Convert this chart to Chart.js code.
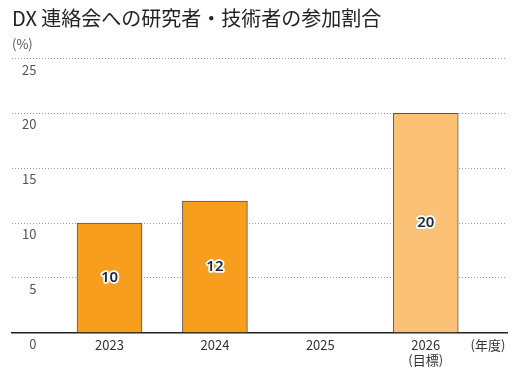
<!DOCTYPE html>
<html>
<head>
<meta charset="utf-8">
<script src="https://cdn.jsdelivr.net/npm/chart.js@4/dist/chart.umd.min.js"></script>
<style>
html,body{margin:0;padding:0;background:#fff;}
#wrap{width:520px;height:381px;position:relative;}
</style>
</head>
<body>
<div id="wrap"><canvas id="c" width="520" height="381"></canvas></div>
<script>
const titleText = 'DX 連絡会への研究者・技術者の参加割合';
const unitY = '(%)';
const unitX = '(年度)';
const categories = ['2023', '2024', '2025', ['2026', '(目標)']];
const values = [10, 12, null, 20];
const barColors = ['#F79E1F', '#F79E1F', '#F79E1F', '#FBC277'];
const yTicks = [0, 5, 10, 15, 20, 25];
const FONT = '"Noto Sans CJK JP", "Noto Sans", sans-serif';

const barLabels = {
  id: 'barLabels',
  afterDatasetsDraw(chart) {
    const ctx = chart.ctx;
    const meta = chart.getDatasetMeta(0);
    ctx.save();
    ctx.font = '600 15px "Noto Sans", sans-serif';
    ctx.textAlign = 'center';
    ctx.textBaseline = 'middle';
    meta.data.forEach((el, i) => {
      const v = values[i];
      if (v == null) return;
      const p = el.getProps(['x', 'y', 'base'], true);
      const y = (p.y + p.base) / 2;
      ctx.lineJoin = 'round';
      ctx.lineWidth = 3.5;
      ctx.strokeStyle = '#fff';
      ctx.strokeText(String(v), p.x, y);
      ctx.fillStyle = '#1d2540';
      ctx.fillText(String(v), p.x, y);
    });
    ctx.restore();
  }
};

new Chart(document.getElementById('c'), {
  type: 'bar',
  data: {
    datasets: [{
      data: values.map((v, i) => ({x: i, y: v})),
      backgroundColor: barColors,
      borderColor: '#555',
      borderWidth: 1,
      borderSkipped: 'bottom',
      barThickness: 65
    }]
  },
  options: {
    responsive: false,
    animation: false,
    layout: {padding: {left: 12, right: 13, top: 0, bottom: 9}},
    plugins: {
      legend: {display: false},
      tooltip: {enabled: false},
      title: {
        display: true, text: titleText, align: 'start', color: '#222',
        font: {size: 20, family: FONT, weight: 'normal'},
        padding: {top: 6, bottom: 4}
      },
      subtitle: {
        display: true, text: unitY, align: 'start', color: '#555',
        font: {size: 13, family: FONT, weight: 'normal'},
        padding: {top: 2, bottom: 7}
      }
    },
    scales: {
      x: {
        type: 'linear',
        offset: false,
        min: -0.925, max: 3.771,
        afterBuildTicks(axis) {
          axis.ticks = [0, 1, 2, 3, 3.59].map(v => ({value: v}));
        },
        ticks: {
          autoSkip: false, maxRotation: 0, padding: 4,
          color: '#333', font: {size: 13, family: FONT},
          callback(v) {
            if (Number.isInteger(v) && categories[v] !== undefined) return categories[v];
            return unitX;
          }
        },
        grid: {display: false, drawTicks: false, offset: false},
        border: {display: true, color: '#222', width: 1.5}
      },
      y: {
        position: 'left',
        min: 0, max: 25,
        afterBuildTicks(axis) {
          axis.ticks = yTicks.map(v => ({value: v}));
        },
        afterFit(axis) { axis.width = 0; },
        ticks: {
          mirror: true, crossAlign: 'far', padding: 10, labelOffset: 11,
          color: '#555', font: {size: 13, family: FONT}
        },
        grid: {
          drawTicks: false,
          color: (c) => (c.tick && c.tick.value === 0) ? 'rgba(0,0,0,0)' : '#999',
          lineWidth: 1
        },
        border: {display: false, dash: [1, 2]}
      }
    }
  },
  plugins: [barLabels]
});
</script>
</body>
</html>
